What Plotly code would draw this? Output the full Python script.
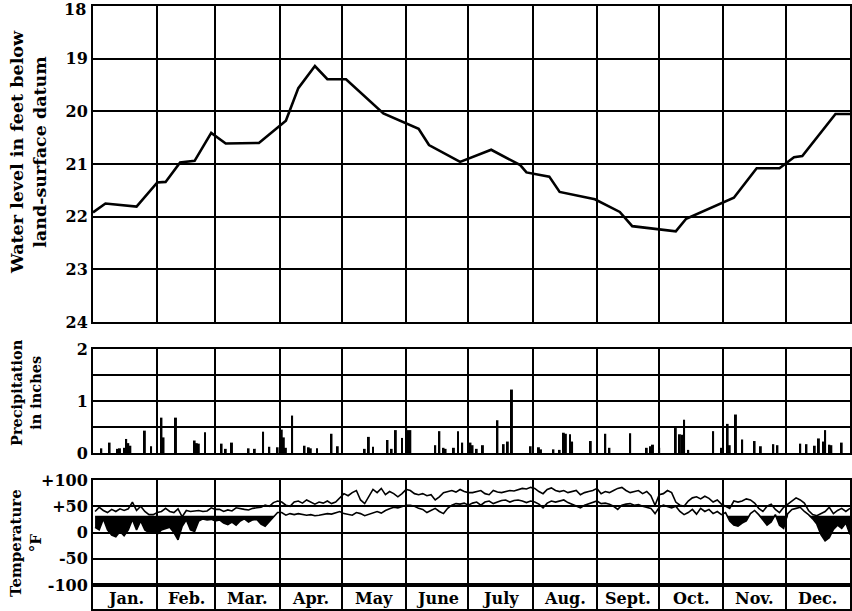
import plotly.graph_objects as go

# ---------------- data ----------------
months = ["Jan.", "Feb.", "Mar.", "Apr.", "May", "June", "July", "Aug.",
          "Sept.", "Oct.", "Nov.", "Dec."]
month_days = [31, 28, 31, 30, 31, 30, 31, 31, 30, 31, 30, 31]

# water level (feet below land-surface datum), day of year
wl_day = [0, 6, 21, 31, 35, 42, 49, 57, 64, 80, 93, 99, 107, 113, 122, 140,
          157, 162, 177, 187, 192, 206, 209, 220, 225, 242, 254, 260, 281,
          286, 309, 320, 331, 338, 342, 358, 365]
wl_ft = [21.92, 21.75, 21.81, 21.35, 21.34, 20.97, 20.94, 20.41, 20.61, 20.60,
         20.18, 19.56, 19.14, 19.39, 19.39, 20.04, 20.33, 20.64, 20.96, 20.81,
         20.73, 21.02, 21.16, 21.24, 21.53, 21.67, 21.91, 22.18, 22.28, 22.04,
         21.64, 21.08, 21.08, 20.87, 20.85, 20.05, 20.05]

# daily precipitation (inches)
precip_day = [4, 8, 12, 13, 15, 16, 17, 18, 25, 28, 33, 34, 40, 49, 50, 51, 54,
              62, 64, 67, 75, 78, 82, 85, 89, 91, 92, 93, 96, 102, 104, 105, 108,
              115, 118, 131, 133, 135, 142, 144, 146, 149, 151, 152, 153, 165,
              167, 169, 170, 174, 176, 178, 182, 183, 185, 188, 195, 198, 200,
              202, 211, 215, 216, 222, 225, 227, 228, 230, 231, 240, 247, 249,
              259, 267, 269, 270, 273, 281, 283, 284, 285, 287, 299, 303, 306,
              307, 310, 313, 319, 322, 328, 330, 341, 344, 348, 350, 352, 353,
              355, 356, 361]
precip_in = [0.09, 0.20, 0.08, 0.09, 0.10, 0.27, 0.19, 0.14, 0.43, 0.13, 0.68,
             0.30, 0.68, 0.24, 0.19, 0.18, 0.40, 0.18, 0.08, 0.20, 0.09, 0.08,
             0.41, 0.12, 0.11, 0.45, 0.30, 0.10, 0.72, 0.14, 0.11, 0.09, 0.09,
             0.37, 0.13, 0.08, 0.31, 0.12, 0.25, 0.08, 0.44, 0.29, 0.52, 0.44,
             0.44, 0.15, 0.42, 0.10, 0.08, 0.10, 0.42, 0.20, 0.20, 0.15, 0.08,
             0.15, 0.63, 0.17, 0.22, 1.22, 0.13, 0.11, 0.07, 0.07, 0.06, 0.39,
             0.37, 0.36, 0.22, 0.23, 0.37, 0.10, 0.38, 0.10, 0.13, 0.16, 0.10,
             0.48, 0.36, 0.35, 0.64, 0.06, 0.42, 0.10, 0.56, 0.15, 0.74, 0.26,
             0.23, 0.13, 0.17, 0.15, 0.18, 0.17, 0.14, 0.28, 0.22, 0.44, 0.16,
             0.15, 0.20]

# air temperature (deg F), every second day
temp_day = list(range(1, 366, 2))
temp_max = [
    40, 48, 42, 38, 44, 40, 45, 42, 45, 58, 42, 50, 40, 34, 34, 38,          # Jan
    40, 46, 40, 38, 45, 30, 42, 40, 41, 42, 40, 41, 47, 44,                  # Feb
    44, 40, 43, 41, 47, 45, 44, 43, 46, 47, 48, 52, 50, 57, 60,              # Mar
    58, 52, 50, 58, 60, 56, 62, 58, 54, 58, 56, 60, 55, 58, 66,              # Apr
    74, 70, 76, 80, 62, 55, 70, 82, 76, 84, 72, 78, 74, 68, 74, 82,          # May
    80, 74, 72, 74, 70, 72, 62, 68, 76, 78, 80, 77, 82, 78, 76,              # June
    76, 78, 80, 74, 72, 80, 77, 76, 78, 80, 79, 82, 84, 83, 86,              # July
    84, 78, 74, 82, 85, 80, 78, 80, 76, 78, 80, 72, 76, 78, 80, 84,          # Aug
    74, 78, 76, 80, 84, 86, 80, 76, 78, 80, 74, 78, 70, 52, 72,              # Sept
    74, 80, 76, 58, 52, 50, 60, 66, 68, 64, 69, 65, 58, 62, 54,              # Oct
    50, 46, 60, 58, 60, 64, 62, 56, 46, 40, 50, 54, 44, 38, 48,              # Nov
    54, 60, 66, 62, 56, 42, 34, 32, 36, 40, 48, 36, 42, 46, 40, 46,          # Dec
]
temp_min = [
    10, 5, 26, 5, -5, -8, 2, -6, 5, 25, 5, 22, 5, 0, 3, -3,                  # Jan
    5, 8, 10, 0, -14, 12, 24, 5, 2, 22, 26, 24, 25, 22,                      # Feb
    24, 18, 15, 20, 14, 22, 26, 20, 24, 25, 16, 12, 20, 28, 38,              # Mar
    38, 33, 36, 34, 36, 35, 33, 34, 32, 33, 34, 36, 35, 38, 40,              # Apr
    36, 34, 33, 38, 36, 32, 35, 38, 40, 37, 42, 45, 48, 47, 50, 52,          # May
    52, 50, 46, 44, 38, 42, 46, 40, 36, 46, 52, 55, 54, 56, 52,              # June
    56, 58, 52, 58, 60, 55, 58, 61, 62, 58, 61, 62, 60, 57, 60,              # July
    58, 54, 47, 56, 60, 58, 60, 62, 57, 54, 50, 47, 52, 55, 58, 60,          # Aug
    55, 56, 54, 50, 44, 52, 54, 55, 52, 53, 50, 48, 46, 36, 48,              # Sept
    52, 50, 47, 50, 40, 34, 38, 44, 35, 46, 40, 44, 36, 40, 34,              # Oct
    38, 22, 14, 12, 18, 22, 36, 42, 34, 24, 14, 20, 34, 14, 8,               # Nov
    36, 44, 46, 48, 40, 34, 26, 16, -4, -16, -10, 6, 14, 8, 18, -4,          # Dec
]
FREEZING = 32

wl_ticks = [18, 19, 20, 21, 22, 23, 24]
pr_ticks = [0, 0.5, 1, 1.5, 2]
pr_ticktext = ["0", "", "1", "", "2"]
tp_ticks = [-100, -50, 0, 50, 100]
tp_ticktext = ["-100", "-50", "0", "+50", "+100"]

# ---------------- derived ----------------
bounds = [0]
for n in month_days:
    bounds.append(bounds[-1] + n)
mid = [(bounds[i] + bounds[i + 1]) / 2 for i in range(12)]

# freezing polygon (area between 32 F and the minimum curve, where below)
fx, fy = [], []
for i, (d, t) in enumerate(zip(temp_day, temp_min)):
    if i > 0:
        d0, t0 = temp_day[i - 1], temp_min[i - 1]
        if (t0 - FREEZING) * (t - FREEZING) < 0:
            fx.append(d0 + (FREEZING - t0) * (d - d0) / (t - t0))
            fy.append(FREEZING)
    fx.append(d)
    fy.append(min(t, FREEZING))
poly_x = fx + fx[::-1]
poly_y = fy + [FREEZING] * len(fx)

# top label of the water-level axis is drawn as an annotation (nudged down
# so it is not cut at the page edge, as in the original)
wl_ticktext = [""] + [str(v) for v in wl_ticks[1:]]

# ---------------- figure ----------------
FONT = "DejaVu Serif"
fig = go.Figure()

fig.add_trace(go.Scatter(x=wl_day, y=wl_ft, mode="lines",
                         line=dict(color="black", width=2.6),
                         xaxis="x", yaxis="y", showlegend=False))
fig.add_trace(go.Bar(x=precip_day, y=precip_in, width=0.95,
                     marker=dict(color="black", line=dict(width=0)),
                     xaxis="x2", yaxis="y2", showlegend=False))
fig.add_trace(go.Scatter(x=poly_x, y=poly_y, mode="lines", fill="toself",
                         fillcolor="black", line=dict(width=0, color="black"),
                         xaxis="x3", yaxis="y3", showlegend=False))
fig.add_trace(go.Scatter(x=temp_day, y=temp_max, mode="lines",
                         line=dict(color="black", width=1.6),
                         xaxis="x3", yaxis="y3", showlegend=False))
fig.add_trace(go.Scatter(x=temp_day, y=temp_min, mode="lines",
                         line=dict(color="black", width=1.6),
                         xaxis="x3", yaxis="y3", showlegend=False))

H = 611
T, B = 6, 2
ph = H - T - B


def dom(top_px, bot_px):
    return [(H - B - bot_px) / ph, (H - B - top_px) / ph]


xcommon = dict(range=[0, 365], tickvals=bounds, showticklabels=False,
               ticks="", showgrid=True, gridcolor="black", gridwidth=1.5,
               showline=True, linecolor="black", linewidth=2, mirror=True,
               zeroline=False, fixedrange=True, automargin=False)
tickfont = dict(family=FONT, size=16, color="black", weight="bold")
ycommon = dict(showgrid=True, gridcolor="black", gridwidth=1.5,
               showline=True, linecolor="black", linewidth=2, mirror=True,
               zeroline=False, ticks="", tickfont=tickfont, fixedrange=True,
               automargin=False, ticklabeloverflow="allow")

fig.update_layout(
    width=852, height=H,
    margin=dict(l=93, r=2, t=T, b=B, autoexpand=False),
    paper_bgcolor="white", plot_bgcolor="white",
    xaxis=dict(xcommon, anchor="y"),
    xaxis2=dict(xcommon, anchor="y2", matches="x"),
    xaxis3=dict(xcommon, anchor="y3", matches="x"),
    xaxis4=dict(xcommon, anchor="y4", matches="x"),
    yaxis=dict(ycommon, domain=dom(6, 322), range=[24, 18], tickvals=wl_ticks,
               ticktext=wl_ticktext),
    yaxis2=dict(ycommon, domain=dom(349, 453), range=[0, 2],
                tickvals=pr_ticks, ticktext=pr_ticktext),
    yaxis3=dict(ycommon, domain=dom(480, 585), range=[-100, 100],
                tickvals=tp_ticks, ticktext=tp_ticktext),
    yaxis4=dict(domain=dom(585, 609), range=[0, 1], showgrid=False,
                showticklabels=False, ticks="", showline=True,
                linecolor="black", linewidth=2, mirror=True, zeroline=False,
                fixedrange=True, automargin=False),
    showlegend=False,
)

fig.add_annotation(x=0, y=wl_ticks[0], xref="paper", yref="y",
                   text=str(wl_ticks[0]), showarrow=False, xanchor="right",
                   yanchor="top", xshift=-5, yshift=8,
                   font=tickfont)

for m, xm in zip(months, mid):
    fig.add_annotation(x=xm, y=0.42, xref="x4", yref="y4", text=m,
                       showarrow=False,
                       font=dict(family=FONT, size=16, color="black",
                                 weight="bold"))

titles = [
    ("Water level in feet below<br>land-surface datum", 152, 17.5, 28),
    ("Precipitation<br>in inches", 393, 14.5, 26),
    ("Temperature<br>°F", 543, 15, 26),
]
for txt, ypx, fs, xpx in titles:
    fig.add_annotation(x=(xpx - 93) / 757, y=(H - B - ypx) / ph,
                       xref="paper", yref="paper", text=txt, textangle=-90,
                       showarrow=False, xanchor="center", yanchor="middle",
                       font=dict(family=FONT, size=fs, color="black",
                                 weight="bold"))

fig.write_html("out.html",
               config={"displayModeBar": False},
               post_script="document.body.style.margin='0';"
                           "document.body.style.overflow='hidden';")
